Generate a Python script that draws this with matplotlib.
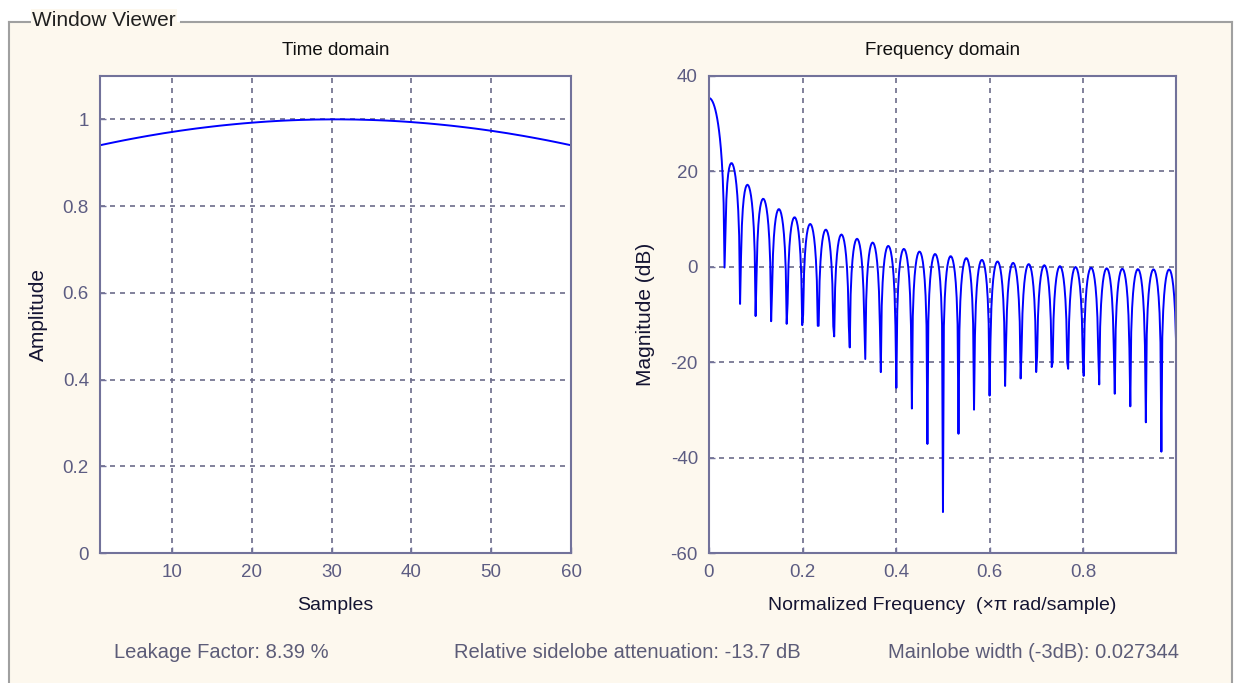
import numpy as np
import matplotlib
matplotlib.use("Agg")
import matplotlib.pyplot as plt
from matplotlib.lines import Line2D
from matplotlib.patches import Rectangle

# window samples (first half, symmetric)
half_window = [0.9403, 0.9442, 0.9480, 0.9517, 0.9552, 0.9586, 0.9619, 0.9650,
               0.9681, 0.9709, 0.9737, 0.9763, 0.9788, 0.9811, 0.9833, 0.9854,
               0.9873, 0.9891, 0.9908, 0.9923, 0.9937, 0.9950, 0.9961, 0.9971,
               0.9979, 0.9986, 0.9991, 0.9996, 0.9998, 1.0000]
window = np.array(half_window + half_window[::-1])
samples = np.arange(1, len(window) + 1)
n_points = 512

time_ticks = [10, 20, 30, 40, 50, 60]
amp_ticks = [0, 0.2, 0.4, 0.6, 0.8, 1]
freq_ticks = [0, 0.2, 0.4, 0.6, 0.8]
mag_ticks = [-60, -40, -20, 0, 20, 40]

info_texts = ["Leakage Factor: 8.39 %",
              "Relative sidelobe attenuation: -13.7 dB",
              "Mainlobe width (-3dB): 0.027344"]

# magnitude response of the window
H = np.fft.fft(window, 2 * n_points)[:n_points]
freq = np.arange(n_points) / n_points
mag_db = 20 * np.log10(np.abs(H))

W, Hh = 1235, 683
bg = "#fdf8ee"
edge = "#72729a"
tick_col = "#5c5c82"
label_col = "#141432"
grid_col = "#6c6c8a"

plt.rcParams["font.family"] = ["Liberation Sans", "DejaVu Sans"]
plt.rcParams["axes.unicode_minus"] = False

fig = plt.figure(figsize=(W / 100, Hh / 100), dpi=100)
fig.patch.set_facecolor("white")


def fx(px):
    return px / W


def fy(py):
    return 1 - py / Hh


# group box background and border
fig.add_artist(Rectangle((fx(9), 0), fx(1232) - fx(9), fy(22), transform=fig.transFigure,
                         facecolor=bg, edgecolor="none", zorder=0))
for xs, ys in [([9, 30], [22, 22]), ([181, 1232], [22, 22]),
               ([9, 9], [22, 683]), ([1232, 1232], [22, 683])]:
    fig.add_artist(Line2D([fx(x) for x in xs], [fy(y) for y in ys], transform=fig.transFigure,
                          color="#a0a0a0", lw=1.5, zorder=1))
fig.text(fx(32), fy(20), "Window Viewer", fontsize=15, color="#202020", va="center", ha="left",
         bbox=dict(facecolor=bg, edgecolor="none", pad=1))

ax1 = fig.add_axes([fx(100), fy(553), fx(571) - fx(100), fy(76) - fy(553)])
ax2 = fig.add_axes([fx(709), fy(553), fx(1176) - fx(709), fy(76) - fy(553)])

ax1.plot(samples, window, color="#0000ff", lw=1.4)
ax1.set_xlim(1, 60)
ax1.set_ylim(0, 1.1)
ax1.set_xticks(time_ticks)
ax1.set_yticks(amp_ticks)
ax1.set_yticklabels(["0", "0.2", "0.4", "0.6", "0.8", "1"])
ax1.set_title("Time domain", fontsize=13.5, color="#101010", pad=15)
ax1.set_xlabel("Samples", fontsize=14, color=label_col)
ax1.set_ylabel("Amplitude", fontsize=15, color=label_col)
ax1.xaxis.set_label_coords(0.5, -0.092)
ax1.yaxis.set_label_coords(-0.110, 0.5)

ax2.plot(freq, mag_db, color="#0000ff", lw=1.4)
ax2.set_xlim(0, freq[-1])
ax2.set_ylim(-60, 40)
ax2.set_xticks(freq_ticks)
ax2.set_xticklabels(["0", "0.2", "0.4", "0.6", "0.8"])
ax2.set_yticks(mag_ticks)
ax2.set_title("Frequency domain", fontsize=13.5, color="#101010", pad=15)
ax2.set_xlabel("Normalized Frequency  (\u00d7\u03c0 rad/sample)", fontsize=14, color=label_col)
ax2.set_ylabel("Magnitude (dB)", fontsize=15, color=label_col)
ax2.xaxis.set_label_coords(0.5, -0.092)
ax2.yaxis.set_label_coords(-0.116, 0.5)

for ax in (ax1, ax2):
    ax.set_facecolor("white")
    ax.grid(True, color=grid_col, linestyle=(0, (3, 3)), lw=1.2)
    ax.set_axisbelow(True)
    for s in ax.spines.values():
        s.set_color(edge)
        s.set_linewidth(1.5)
    ax.tick_params(direction="in", length=4, width=1, color=edge, labelcolor=tick_col,
                   labelsize=13.5, pad=8)

xs_info = [221, 627, 1034]
for x, t in zip(xs_info, info_texts):
    fig.text(fx(x), fy(652), t, fontsize=14.5, color="#5c5c78", ha="center", va="center")

fig.savefig("out.png", dpi=100, facecolor=fig.get_facecolor())
